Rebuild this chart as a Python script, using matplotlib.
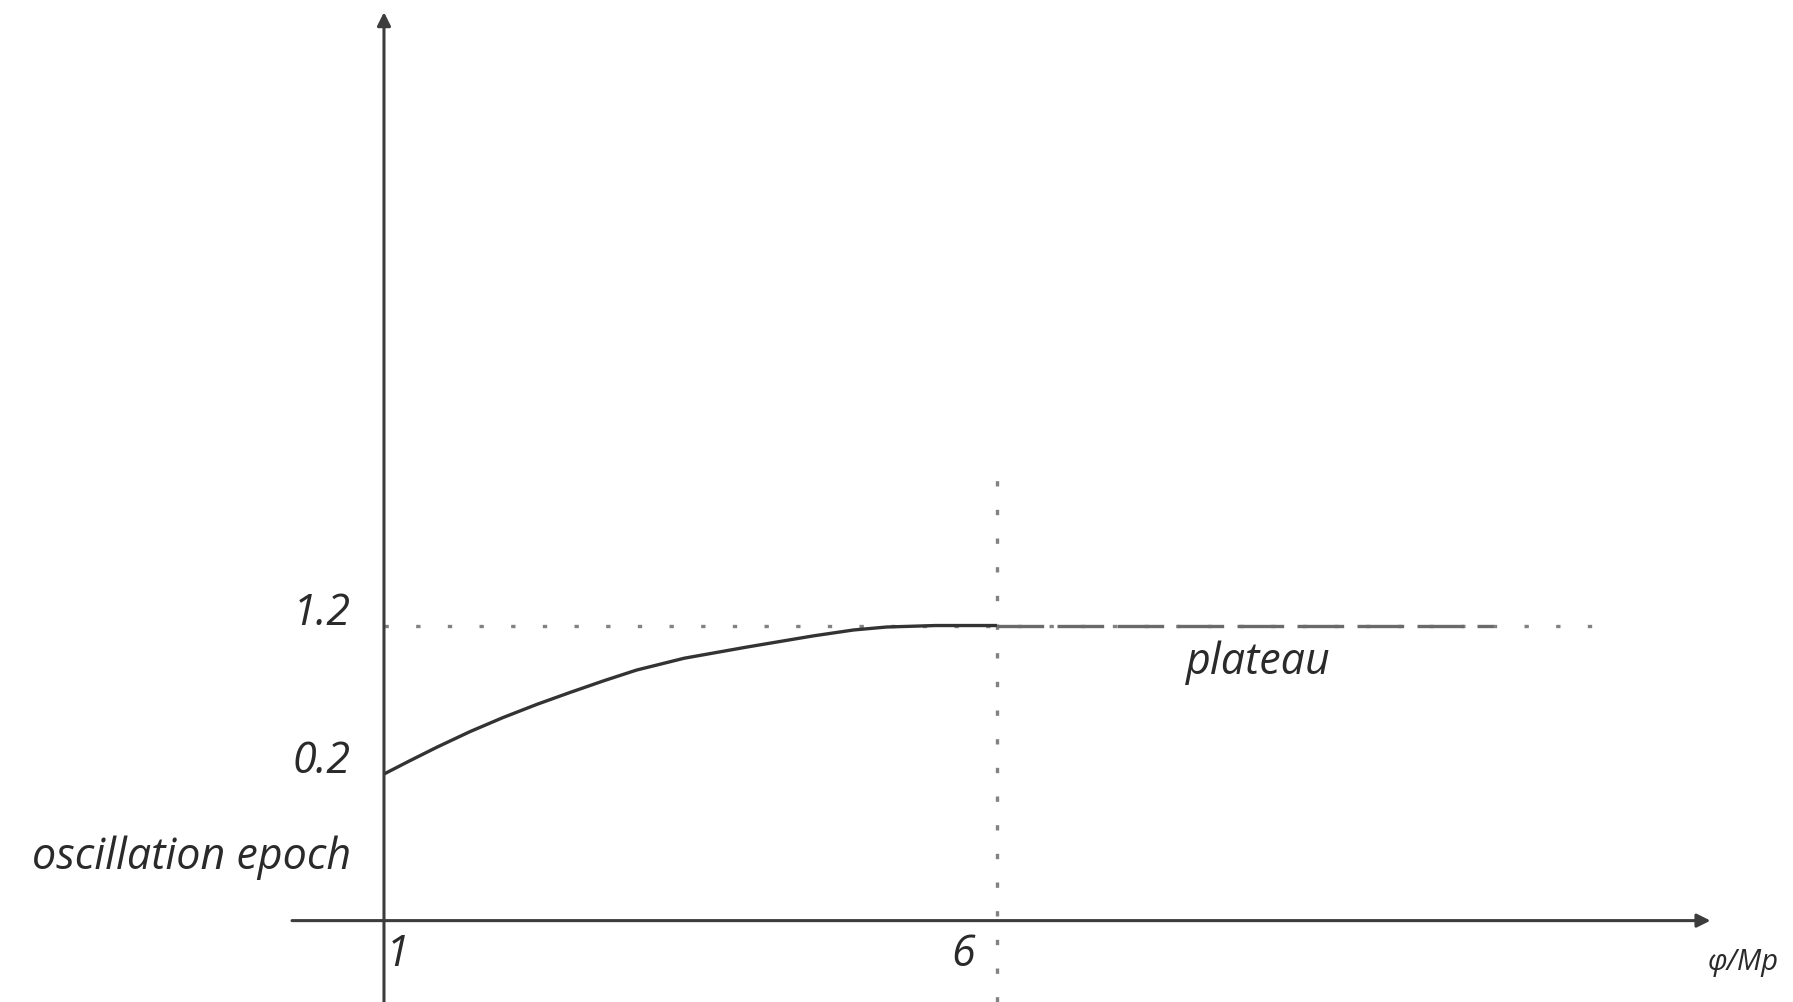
import matplotlib.pyplot as plt

plt.rcParams['font.family'] = ['Open Sans', 'DejaVu Sans']

# potential curve
phi = [1.0, 1.2, 1.43, 1.7, 1.97, 2.25, 2.52, 2.8, 3.06, 3.45, 3.96, 4.5, 4.83, 5.1, 5.5, 6.0]
V = [0.20, 0.285, 0.38, 0.485, 0.58, 0.67, 0.75, 0.83, 0.90, 0.98, 1.055, 1.13, 1.17, 1.19, 1.2, 1.2]

x_ticks = [1, 6]
x_ticklabels = ['1', '6']
y_ticks = [0.2, 1.2]
y_ticklabels = ['0.2', '1.2']

plateau_level = 1.2
plateau_start = 6.0
plateau_end = 10.05
guide_end = 10.9

# layout of the hand-drawn axes (not data)
X_LIM = (-2.132, 12.493)
Y_LIM = (-1.335, 5.412)
X_AXIS_Y = -0.787
Y_AXIS_X = 1.0
X_AXIS_FROM, X_AXIS_TO = 0.25, 11.82
Y_AXIS_TO = 5.33
V_GUIDE_TOP = 2.21

axis_col = '#3c3c3c'
dot_col = '#828282'
text_col = '#2a2a2a'

fig = plt.figure(figsize=(17.93, 10.02), dpi=100)
ax = fig.add_axes([0, 0, 1, 1])
ax.set_xlim(*X_LIM)
ax.set_ylim(*Y_LIM)
ax.axis('off')

# axes with arrow heads
arrow = dict(arrowstyle='-|>', color=axis_col, lw=2.2, mutation_scale=20,
             shrinkA=0, shrinkB=0)
ax.annotate('', xy=(X_AXIS_TO, X_AXIS_Y), xytext=(X_AXIS_FROM, X_AXIS_Y), arrowprops=arrow)
ax.annotate('', xy=(Y_AXIS_X, Y_AXIS_TO), xytext=(Y_AXIS_X, Y_LIM[0]), arrowprops=arrow)

# dotted guides
dots = (0, (1.3, 8.2))
ax.plot([x_ticks[0], guide_end], [plateau_level, plateau_level], color=dot_col, lw=2.4, ls=dots)
ax.plot([plateau_start, plateau_start], [Y_LIM[0], V_GUIDE_TOP], color=dot_col, lw=2.4, ls=(0, (1.6, 7.0)))

# plateau dashes
ax.plot([plateau_start, plateau_end], [plateau_level, plateau_level], color='#6a6a6a', lw=2.4,
        ls=(0, (14, 4)))

# the curve
ax.plot(phi, V, color='#333333', lw=2.4, solid_capstyle='butt')

# labels
fs = 31
x_lab_dx = [0.11, -0.28]
for xv, dx, lab in zip(x_ticks, x_lab_dx, x_ticklabels):
    ax.text(xv + dx, -1.02, lab, ha='center', va='center', fontsize=fs, style='italic', color=text_col)
for yv, lab in zip(y_ticks, y_ticklabels):
    ax.text(0.73, yv + 0.08, lab, ha='right', va='center', fontsize=fs, style='italic', color=text_col)

ax.text(0.73, -0.363, 'oscillation epoch', ha='right', va='center', fontsize=fs, style='italic', color=text_col)
ax.text(8.13, 0.947, 'plateau', ha='center', va='center', fontsize=fs, style='italic', color=text_col)
ax.text(12.09, -1.07, 'φ/Mp', ha='center', va='center', fontsize=21, style='italic', color=text_col)

fig.savefig('out.png', dpi=100)
